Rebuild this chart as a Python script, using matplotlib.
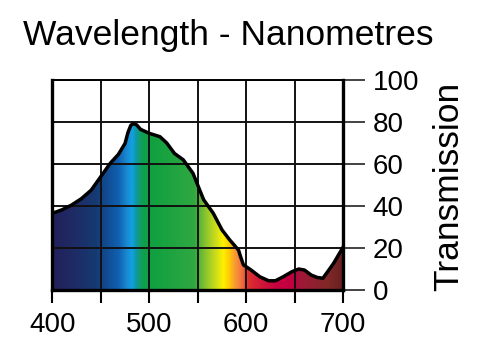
import numpy as np
import matplotlib
matplotlib.use("Agg")
import matplotlib.pyplot as plt
from matplotlib.colors import LinearSegmentedColormap

plt.rcParams["font.family"] = ["Liberation Sans", "DejaVu Sans"]

# transmission curve
wavelength = [400, 410, 420, 430, 440, 450, 460, 468, 475, 478, 481, 484, 487,
              491, 500, 511, 518, 526, 535, 545, 556, 566, 575, 583, 592, 594,
              597, 605, 614, 623, 630, 638, 647, 654, 660, 667, 673, 679, 690,
              700]
transmission = [36.5, 38.2, 40.5, 43.5, 47.5, 54, 60.5, 64.5, 69.8, 75, 78.5,
                79.2, 78.6, 76.5, 74.6, 73, 70, 65, 62, 55.6, 43, 36.5, 28.6,
                23.8, 19, 16, 12, 9.5, 6.3, 4.4, 4.4, 6.3, 8.7, 10, 9.5, 7.1, 6,
                5.6, 12.7, 20.6]

x_major = [400, 500, 600, 700]
x_minor = [450, 550, 650]
y_ticks = [0, 20, 40, 60, 80, 100]

# spectrum colour stops (nm, colour)
spectrum = [
    (400, "#22205a"), (420, "#1f2a64"), (445, "#163a72"), (455, "#124a90"),
    (468, "#1060b0"), (477, "#1a8ad0"), (482, "#10a0e8"), (487, "#109898"),
    (493, "#10a050"), (503, "#10a040"), (547, "#30a840"), (557, "#80c030"),
    (567, "#c0d820"), (577, "#fff000"), (582, "#ffd000"), (588, "#f8a030"),
    (596, "#f07040"), (602, "#e03030"), (616, "#d01838"), (632, "#c80040"),
    (650, "#c00040"), (657, "#a01838"), (685, "#802828"), (700, "#6a2020"),
]

fig = plt.figure(figsize=(5.0, 3.52), dpi=100)
ax = fig.add_axes([0.1046, 0.1761, 0.582, 0.5966])

cmap = LinearSegmentedColormap.from_list(
    "spec", [((w - 400) / 300, c) for w, c in spectrum])
grad = np.linspace(0, 1, 600).reshape(1, -1)
img = ax.imshow(grad, cmap=cmap, extent=[400, 700, 0, 100], aspect="auto",
                origin="lower", zorder=1, interpolation="bilinear")
poly = ax.fill_between(wavelength, transmission, 0, color="none", zorder=1)
img.set_clip_path(poly.get_paths()[0], transform=ax.transData)

ax.plot(wavelength, transmission, color="black", lw=2.5, zorder=4,
        solid_joinstyle="round", solid_capstyle="round")

ax.set_xlim(400, 700)
ax.set_ylim(0, 100)

for x in x_major + x_minor:
    ax.axvline(x, color="#111111", lw=1.4, zorder=3)
for y in y_ticks:
    ax.axhline(y, color="#111111", lw=1.4, zorder=3)

ax.set_xticks(x_major)
ax.set_xticks(x_minor, minor=True)
ax.tick_params(axis="x", which="both", direction="out", length=9.5, width=1.5,
               pad=6, labelsize=20, color="black")
ax.yaxis.tick_right()
ax.set_yticks(y_ticks)
ax.tick_params(axis="y", direction="out", length=16, width=1.2, pad=5,
               labelsize=20, color="#222222")

for side, lw in [("left", 2.4), ("bottom", 2.4), ("right", 2.4), ("top", 1.4)]:
    ax.spines[side].set_linewidth(lw)
    ax.spines[side].set_zorder(5)

fig.text(23 / 500, 1 - 45 / 352, "Wavelength - Nanometres", fontsize=25.5,
         ha="left", va="baseline")
fig.text(449 / 500, 1 - 186 / 352, "Transmission", fontsize=25.5,
         rotation=90, ha="center", va="center")

fig.savefig("out.png", dpi=100)
